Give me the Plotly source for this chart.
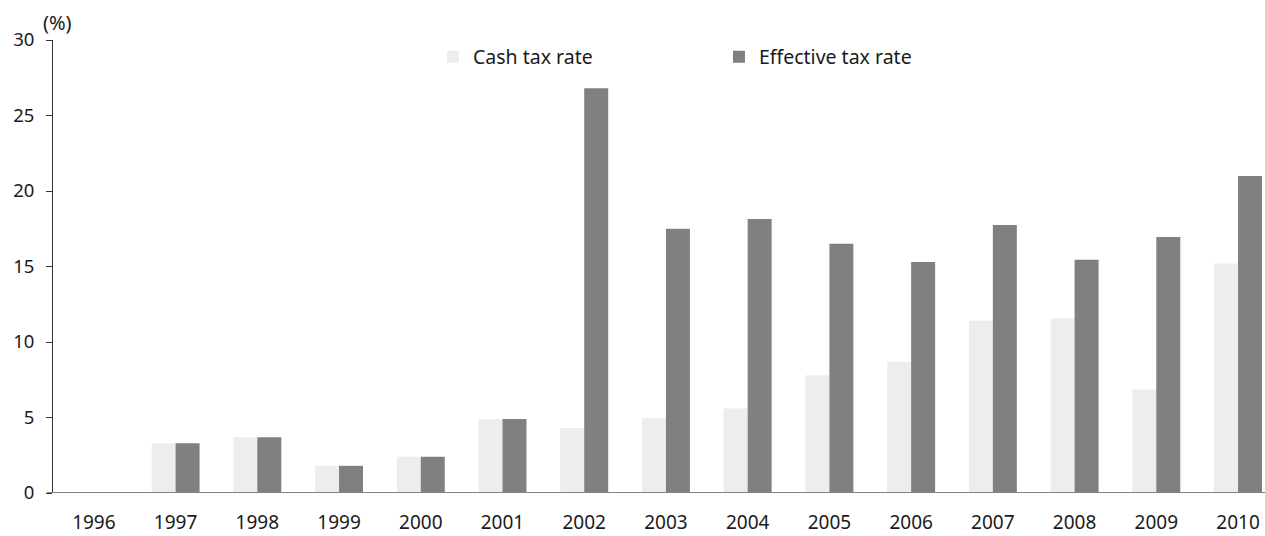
import plotly.graph_objects as go

years = ["1996", "1997", "1998", "1999", "2000", "2001", "2002", "2003",
         "2004", "2005", "2006", "2007", "2008", "2009", "2010"]
cash_tax_rate = [0, 3.3, 3.7, 1.8, 2.4, 4.9, 4.3, 4.95, 5.6, 7.8, 8.7, 11.4, 11.55, 6.85, 15.2]
effective_tax_rate = [0, 3.3, 3.7, 1.8, 2.4, 4.9, 26.8, 17.5, 18.15, 16.5, 15.3, 17.75, 15.45, 16.95, 21.0]

FONT = "Noto Sans"

fig = go.Figure()
fig.add_trace(go.Bar(x=years, y=cash_tax_rate, name="Cash tax rate",
                     marker=dict(color="#ededed", line=dict(width=0))))
fig.add_trace(go.Bar(x=years, y=effective_tax_rate, name="Effective tax rate",
                     marker=dict(color="#808080", line=dict(width=0))))

fig.update_layout(
    width=1265, height=536,
    margin=dict(l=53, r=0, t=40, b=43, autoexpand=False),
    plot_bgcolor="white", paper_bgcolor="white",
    barmode="group", bargap=0.413, bargroupgap=0,
    font=dict(family=FONT, size=18, color="#1a1a1a"),
    showlegend=True,
    legend=dict(orientation="h", x=0.3135, xanchor="left", y=0.9625, yanchor="middle",
                entrywidth=241, entrywidthmode="pixels",
                font=dict(size=19.5), bgcolor="rgba(0,0,0,0)", traceorder="normal"),
    xaxis=dict(type="category", range=[-0.5, 14.33], showgrid=False, automargin=False,
               showline=False, ticks="outside", ticklen=12,
               tickcolor="rgba(0,0,0,0)", tickfont=dict(size=19)),
    yaxis=dict(range=[0, 30], tickvals=[0, 5, 10, 15, 20, 25, 30], showgrid=False,
               automargin=False,
               showline=True, linecolor="#333333", linewidth=1,
               ticks="outside", ticklen=6, tickcolor="#333333",
               zeroline=False, tickfont=dict(size=18.5), ticklabelstandoff=8),
    shapes=[dict(type="line", xref="paper", yref="y", x0=-0.005, x1=1, y0=0, y1=0,
                 line=dict(color="#808080", width=2))],
    annotations=[dict(text="(%)", xref="paper", yref="paper", x=-0.0095, y=1.0,
                      xanchor="left", yanchor="bottom", showarrow=False,
                      font=dict(size=20), yshift=2)],
)

fig.write_html("out.html", config={"displayModeBar": False},
               post_script="document.body.style.margin='0';document.body.style.overflow='hidden';")
